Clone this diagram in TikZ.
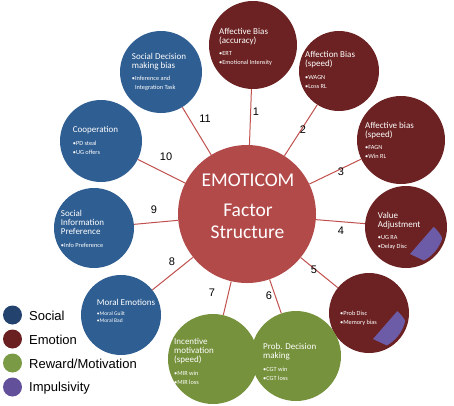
\documentclass[tikz,border=0pt]{standalone}
\usepackage{fontspec}
\setmainfont{Carlito}
\newfontfamily\arialf{Liberation Sans}
\usetikzlibrary{calc}
\definecolor{socc}{HTML}{2F5E92}
\definecolor{emoc}{HTML}{6C2222}
\definecolor{rewc}{HTML}{76923C}
\definecolor{impc}{HTML}{6C5BA6}
\definecolor{centc}{HTML}{B34A4A}
\definecolor{linec}{HTML}{C0504D}
\definecolor{lsoc}{HTML}{24426E}
\definecolor{lemo}{HTML}{6A2020}
\definecolor{lrew}{HTML}{7A9A45}
\definecolor{limp}{HTML}{62509A}
\newcommand\ttlf{\fontsize{9}{8.8}\selectfont}
\newcommand\bulf{\fontsize{6.3}{9}\selectfont}
\newcommand\ctxt[2]{{\ttlf #1\par}\vspace{3.5pt}{\bulf #2\par}}
\begin{document}
\begin{tikzpicture}[x=1pt,y=-1pt,
  bub/.style={circle, inner sep=0pt, minimum size=#1},
  soc/.style={fill=socc},
  emo/.style={fill=emoc},
  rew/.style={fill=rewc},
  conn/.style={draw=linec, line width=1pt},
  numlab/.style={font=\arialf\fontsize{11}{12}\selectfont, inner sep=0pt},
  ctext/.style={anchor=north west, inner sep=0pt, text width=90pt, align=flush left, text=white},
  bigtxt/.style={anchor=base, inner sep=0pt, text=white, font=\fontsize{19.5}{22}\selectfont},
  legdot/.style={circle, inner sep=0pt, minimum size=19pt},
  legtxt/.style={anchor=base west, inner sep=0pt, font=\arialf\fontsize{13}{15}\selectfont}]
\useasboundingbox (0,0) rectangle (454,405);
% circles
\node[bub=138pt, fill=centc] (ctr) at (247,214) {};
\node[bub=88pt, emo] (c1) at (253,45) {};
\node[bub=80pt, emo] (c2) at (339,71) {};
\node[bub=88pt, emo] (c3) at (401,140) {};
\node[bub=82pt, emo] (c4) at (406,227) {};
\node[bub=80pt, emo] (c5) at (369,313) {};
\node[bub=90pt, rew] (c6) at (296,356) {};
\node[bub=90pt, rew] (c7) at (213,359) {};
\node[bub=80pt, soc] (c8) at (121,315) {};
\node[bub=80pt, soc] (c9) at (94,228) {};
\node[bub=82pt, soc] (c10) at (101,141) {};
\node[bub=82pt, soc] (c11) at (161,72) {};
% connectors
\foreach \i in {1,...,11} {\draw[conn] (ctr) -- (c\i);}
% impulsivity wedges
\begin{scope}
\clip (c4.center) circle[radius=38];
\fill[impc] ($(c4.center)+(4,27)$) -- ++(-49:36) arc[start angle=-49, end angle=25, radius=36] -- cycle;
\end{scope}
\begin{scope}
\clip (c5.center) circle[radius=37];
\fill[impc] ($(c5.center)+(4,26)$) -- ++(-49:37) arc[start angle=-49, end angle=25, radius=37] -- cycle;
\end{scope}
% numbers
\node[numlab] (n1) at (256,112) {1};
\node[numlab] (n2) at (303,130) {2};
\node[numlab] (n3) at (341,172) {3};
\node[numlab] (n4) at (341,231) {4};
\node[numlab] (n5) at (314,270) {5};
\node[numlab] (n6) at (269,296) {6};
\node[numlab] (n7) at (212,293) {7};
\node[numlab] (n8) at (172,262) {8};
\node[numlab] (n9) at (154,210) {9};
\node[numlab] (n10) at (166,157) {10};
\node[numlab] (n11) at (205,119) {11};
% centre text
\node[bigtxt] (t1) at (248,186.7) {EMOTICOM};
\node[bigtxt] (t2) at (248,216.7) {Factor};
\node[bigtxt] (t3) at (247.5,238.3) {Structure};
% circle texts
\node[ctext] (x1) at (219,28) {\ctxt{Affective Bias\\(accuracy)}{•ERT\\•Emotional Intensity}};
\node[ctext] (x2) at (305,51.5) {\ctxt{Affection Bias\\(speed)}{•WAGN\\•Loss RL}};
\node[ctext] (x3) at (365,122) {\ctxt{Affective bias\\(speed)}{•FAGN\\•Win RL}};
\node[ctext] (x4) at (377.7,212) {\ctxt{Value\\Adjustment}{•UG RA\\•Delay Disc}};
\node[ctext] (x5) at (340,310.5) {{\bulf •Prob Disc\\•Memory bias\par}};
\node[ctext] (x6) at (263,343.5) {\ctxt{Prob. Decision\\making}{•CGT win\\•CGT loss}};
\node[ctext] (x7) at (174,338.5) {\ctxt{Incentive\\motivation\\(speed)}{•MIR win\\•MIR loss}};
\node[ctext] (x8) at (96.7,299.5) {{\ttlf Moral Emotions\par}\vspace{2.5pt}{\fontsize{5.5}{7}\selectfont •Moral Guilt\\•Moral Bad\par}};
\node[ctext] (x9) at (60.7,210.5) {\ctxt{Social\\Information\\Preference}{•Info Preference}};
\node[ctext] (x10) at (72.7,126.5) {\ctxt{Cooperation}{•PD steal\\•UG offers}};
\node[ctext] (x11) at (131.7,53) {\ctxt{Social Decision\\making bias}{•Inference and\\\hphantom{•}Integration Task}};
% legend
\node[legdot, fill=lsoc] (l1) at (12.5,315) {};
\node[legdot, fill=lemo] (l2) at (12.5,339) {};
\node[legdot, fill=lrew] (l3) at (12.5,363) {};
\node[legdot, fill=limp] (l4) at (12.5,387) {};
\node[legtxt] (lt1) at (29,320) {Social};
\node[legtxt] (lt2) at (29,344) {Emotion};
\node[legtxt] (lt3) at (29,368) {Reward/Motivation};
\node[legtxt] (lt4) at (29,391) {Impulsivity};
\end{tikzpicture}
\end{document}
